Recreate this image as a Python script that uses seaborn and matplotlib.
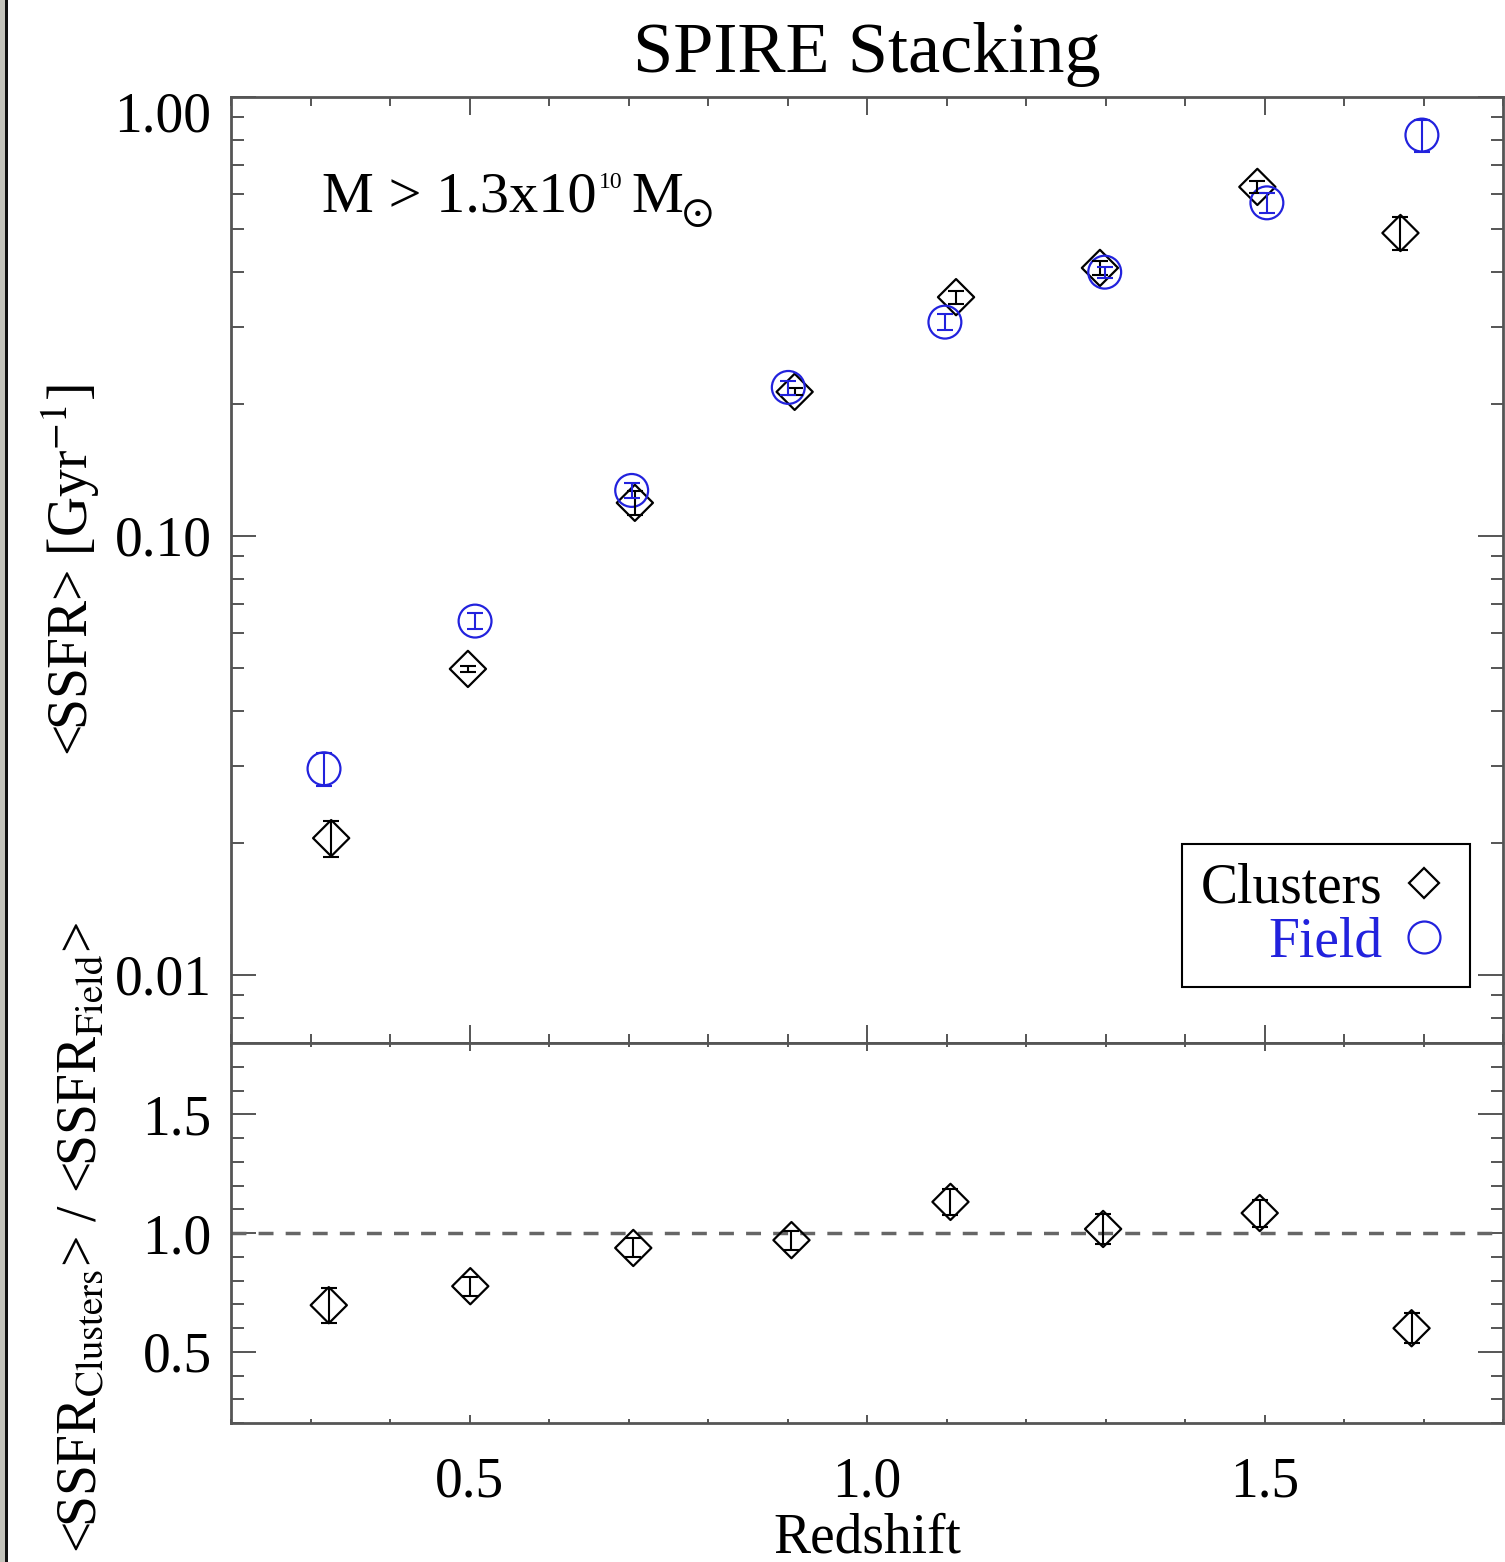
import numpy as np
import pandas as pd
import matplotlib
matplotlib.use("Agg")
import matplotlib.pyplot as plt
import seaborn as sns
from matplotlib.ticker import MultipleLocator, FormatStrFormatter, LogLocator
from matplotlib.lines import Line2D
from matplotlib.patches import Rectangle
from matplotlib.transforms import ScaledTranslation, offset_copy

# ---------------- data ----------------
z_clusters = [0.326, 0.498, 0.708, 0.909, 1.112, 1.293, 1.491, 1.671]
ssfr_clusters = [0.0205, 0.0498, 0.119, 0.213, 0.350, 0.408, 0.624, 0.490]
err_clusters = [0.0019, 0.0008, 0.0075, 0.004, 0.012, 0.015, 0.02, 0.042]

z_field = [0.317, 0.507, 0.704, 0.901, 1.098, 1.299, 1.503, 1.698]
ssfr_field = [0.0295, 0.0640, 0.127, 0.218, 0.307, 0.399, 0.574, 0.819]
err_field = [0.0025, 0.0027, 0.005, 0.008, 0.013, 0.012, 0.031, 0.068]

z_ratio = [0.323, 0.501, 0.706, 0.905, 1.105, 1.297, 1.494, 1.685]
ratio = [0.696, 0.776, 0.937, 0.970, 1.131, 1.017, 1.084, 0.599]
ratio_err = [0.074, 0.040, 0.040, 0.040, 0.055, 0.065, 0.057, 0.063]

top_yticks = [0.01, 0.10, 1.00]
bot_yticks = [0.5, 1.0, 1.5]
x_ticks = [0.5, 1.0, 1.5]

# ---------------- style ----------------
sns.set_theme(style="white")
plt.rcParams["font.family"] = ["Liberation Serif", "DejaVu Serif"]
plt.rcParams["mathtext.fontset"] = "stix"
plt.rcParams["axes.unicode_minus"] = False
for k in ("text.color", "axes.labelcolor", "xtick.labelcolor", "ytick.labelcolor"):
    plt.rcParams[k] = "black"

BLUE = "#2222dd"
AXC = "#555555"
FS = 40

fig = plt.figure(figsize=(15.05, 15.62), dpi=100)
W, H = 1505, 1562
L, R = 231, 1503
ax_top = fig.add_axes([L / W, 1 - 1043 / H, (R - L) / W, (1043 - 97) / H])
ax_bot = fig.add_axes([L / W, 1 - 1423 / H, (R - L) / W, (1423 - 1043) / H])

df_cl = pd.DataFrame({"z": z_clusters, "ssfr": ssfr_clusters})
df_fd = pd.DataFrame({"z": z_field, "ssfr": ssfr_field})
df_rt = pd.DataFrame({"z": z_ratio, "ratio": ratio})

S_D = 340
S_O = 560
MLW = 1.6

# ---------------- top panel ----------------
sns.scatterplot(data=df_cl, x="z", y="ssfr", ax=ax_top, marker="D", s=S_D,
                facecolor="none", edgecolor="black", linewidth=MLW, zorder=3)
ax_top.errorbar(z_clusters, ssfr_clusters, yerr=err_clusters, fmt="none",
                ecolor="black", elinewidth=1.5, capsize=6, capthick=1.5, zorder=4)
sns.scatterplot(data=df_fd, x="z", y="ssfr", ax=ax_top, marker="o", s=S_O,
                facecolor="none", edgecolor=BLUE, linewidth=MLW, zorder=3)
ax_top.errorbar(z_field, ssfr_field, yerr=err_field, fmt="none",
                ecolor=BLUE, elinewidth=1.5, capsize=6, capthick=1.5, zorder=4)

ax_top.set_yscale("log")
ax_top.set_xlim(0.2, 1.8)
ax_top.set_ylim(0.007, 1.0)
ax_top.set_yticks(top_yticks)
ax_top.yaxis.set_major_formatter(FormatStrFormatter("%.2f"))
ax_top.yaxis.set_minor_locator(LogLocator(base=10, subs=np.arange(2, 10)))
ax_top.xaxis.set_major_locator(MultipleLocator(0.5))
ax_top.xaxis.set_minor_locator(MultipleLocator(0.1))
ax_top.set_xlabel("")
ax_top.set_ylabel("")
ax_top.tick_params(axis="x", which="both", labelbottom=False, top=True, bottom=True,
                   direction="in", color=AXC, width=1.4)
ax_top.tick_params(axis="x", which="major", length=13)
ax_top.tick_params(axis="x", which="minor", length=6.5)
ax_top.tick_params(axis="y", which="both", left=True, right=True, direction="in",
                   color=AXC, width=1.4, labelsize=FS, pad=14, labelcolor="black")
ax_top.tick_params(axis="y", which="major", length=18)
ax_top.tick_params(axis="y", which="minor", length=9)

ax_top.set_title("SPIRE Stacking", fontsize=52, pad=18, color="black")

# mass annotation built from pieces (small superscript, sun symbol)
ax_x0, ax_y0 = (322 - L) / (R - L), 1 - (212 - 97) / (1043 - 97)
ax_top.text(ax_x0, ax_y0, "M > 1.3x10", transform=ax_top.transAxes,
            fontsize=42, ha="left", va="baseline")
ax_top.text(ax_x0, ax_y0, "10", fontsize=17, ha="left", va="baseline",
            transform=offset_copy(ax_top.transAxes, fig, x=277, y=24, units="dots"))
ax_top.text(ax_x0, ax_y0, "M", fontsize=42, ha="left", va="baseline",
            transform=offset_copy(ax_top.transAxes, fig, x=309, y=0, units="dots"))
ax_top.text(ax_x0, ax_y0, r"$\odot$", fontsize=30, ha="center", va="center",
            transform=offset_copy(ax_top.transAxes, fig, x=375, y=-2, units="dots"))

handles = [
    Line2D([], [], marker="D", ls="none", markersize=15, markerfacecolor="none",
           markeredgecolor="black", markeredgewidth=1.6),
    Line2D([], [], marker="o", ls="none", markersize=23, markerfacecolor="none",
           markeredgecolor=BLUE, markeredgewidth=1.6),
]
leg = ax_top.legend(handles, ["Clusters", "Field"], loc="lower right",
                    bbox_to_anchor=(0.974, 0.059), borderaxespad=0, markerfirst=False,
                    labelcolor=["black", BLUE], fontsize=FS, frameon=True,
                    fancybox=False, framealpha=1, edgecolor="black",
                    handlelength=1.0, handletextpad=0.25, borderpad=0.33,
                    labelspacing=0.05)
leg.get_frame().set_linewidth(1.5)

# ---------------- bottom panel ----------------
sns.scatterplot(data=df_rt, x="z", y="ratio", ax=ax_bot, marker="D", s=S_D,
                facecolor="none", edgecolor="black", linewidth=MLW, zorder=3)
ax_bot.errorbar(z_ratio, ratio, yerr=ratio_err, fmt="none", ecolor="black",
                elinewidth=1.5, capsize=6, capthick=1.5, zorder=4)
ax_bot.axhline(1.0, color="#666666", lw=2.5, ls=(0, (4.3, 3.5)), zorder=1)

ax_bot.set_xlim(0.2, 1.8)
ax_bot.set_ylim(0.2, 1.8)
ax_bot.set_xticks(x_ticks)
ax_bot.set_yticks(bot_yticks)
ax_bot.xaxis.set_minor_locator(MultipleLocator(0.1))
ax_bot.yaxis.set_minor_locator(MultipleLocator(0.1))
ax_bot.xaxis.set_major_formatter(FormatStrFormatter("%.1f"))
ax_bot.yaxis.set_major_formatter(FormatStrFormatter("%.1f"))
ax_bot.set_ylabel("")
ax_bot.set_xlabel("Redshift", fontsize=FS, color="black")
ax_bot.xaxis.set_label_coords(0.5, -0.235)
ax_bot.tick_params(axis="x", which="both", top=True, bottom=True, direction="in",
                   color=AXC, width=1.4, labelsize=FS, pad=24, labelcolor="black")
ax_bot.tick_params(axis="x", which="major", length=6)
ax_bot.tick_params(axis="x", which="minor", length=3)
ax_bot.tick_params(axis="y", which="both", left=True, right=True, direction="in",
                   color=AXC, width=1.4, labelsize=FS, pad=14, labelcolor="black")
ax_bot.tick_params(axis="y", which="major", length=18)
ax_bot.tick_params(axis="y", which="minor", length=9)

for ax in (ax_top, ax_bot):
    for sp in ax.spines.values():
        sp.set_color(AXC)
        sp.set_linewidth(2)
        sp.set_visible(True)
    ax.set_facecolor("white")

# shift the "1.00" label down like the reference (third major tick)
major_ticks = ax_top.yaxis.get_major_ticks(len(top_yticks))
lab = major_ticks[2].label1
lab.set_transform(lab.get_transform() + ScaledTranslation(0, -0.14, fig.dpi_scale_trans))

# y labels
fig.text(70 / W, 1 - 570 / H, r"<SSFR> [Gyr$^{-1}$]", rotation=90, fontsize=FS,
         ha="center", va="center")
fig.text(82 / W, 1 - 1238 / H, r"<SSFR$_{\rm Clusters}$> / <SSFR$_{\rm Field}$>",
         rotation=90, fontsize=FS, ha="center", va="center")

# left screenshot border
fig.add_artist(Rectangle((0, 0), 5 / W, 1, transform=fig.transFigure,
                         facecolor="#c4c4bc", edgecolor="none"))
fig.add_artist(Rectangle((5 / W, 0), 3 / W, 1, transform=fig.transFigure,
                         facecolor="#111111", edgecolor="none"))

fig.savefig("out.png", dpi=100, facecolor="white")
